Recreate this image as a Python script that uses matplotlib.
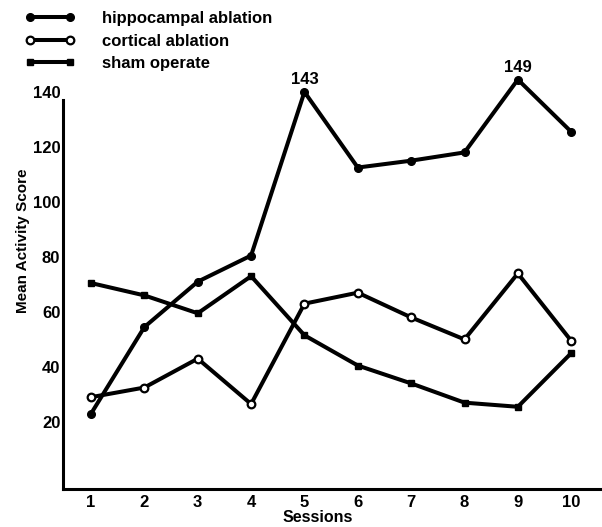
import matplotlib
matplotlib.use("Agg")
import matplotlib.pyplot as plt

# data
sessions = [1, 2, 3, 4, 5, 6, 7, 8, 9, 10]
hippocampal = [23, 54.5, 71, 80.5, 140, 112.5, 115, 118, 144.5, 125.5]
cortical = [29, 32.5, 43, 26.5, 63, 67, 58, 50, 74, 49.5]
sham = [70.5, 66, 59.5, 73, 51.5, 40.5, 34, 27, 25.5, 45]
peak_idx = [4, 8]
peak_labels = ["143", "149"]
yticks = [20, 40, 60, 80, 100, 120, 140]

plt.rcParams['font.family'] = ['Liberation Sans', 'DejaVu Sans']
plt.rcParams['font.weight'] = 'bold'

fig = plt.figure(figsize=(6.02, 5.27), dpi=100)
ax = fig.add_axes([0.1047, 0.0721, 0.892, 0.814])

lw = 2.9
l1, = ax.plot(sessions, hippocampal, color='black', lw=lw, marker='o',
              markersize=5.5, clip_on=False, label='hippocampal ablation')
l2, = ax.plot(sessions, cortical, color='black', lw=lw, marker='o',
              markersize=5.5, markerfacecolor='white', markeredgewidth=1.6,
              clip_on=False, label='cortical ablation')
l3, = ax.plot(sessions, sham, color='black', lw=lw, marker='s',
              markersize=5, clip_on=False, label='sham operate')

for i, txt in zip(peak_idx, peak_labels):
    ax.annotate(txt, (sessions[i], hippocampal[i]), xytext=(0, 9),
                textcoords='offset points', ha='center', va='center',
                fontsize=12, fontweight='bold')

ax.set_xlim(0.475, 10.54)
ax.set_ylim(-4.4, 151.6)
ax.set_xticks(sessions)
ax.set_yticks(yticks)
ax.tick_params(axis='both', length=0, labelsize=12)
ax.tick_params(axis='x', pad=4)
ax.tick_params(axis='y', pad=2)

for s in ['top', 'right']:
    ax.spines[s].set_visible(False)
for s in ['left', 'bottom']:
    ax.spines[s].set_linewidth(2.2)
ax.spines['left'].set_bounds(-4.4, 137)

ax.set_xlabel('Sessions', fontsize=11.5, fontweight='bold', va='baseline')
ax.xaxis.set_label_coords(0.475, -0.077)
ax.set_ylabel('Mean Activity Score', fontsize=11, fontweight='bold')
ax.yaxis.set_label_coords(-0.061, 0.578)

fig.legend(handles=[l1, l2, l3], loc='upper left',
           bbox_to_anchor=(25 / 602, 1 - 11 / 527), frameon=False,
           fontsize=12, numpoints=2, handlelength=3.0, handletextpad=1.6,
           labelspacing=0.45, borderpad=0, borderaxespad=0)

fig.savefig('out.png', dpi=100)
